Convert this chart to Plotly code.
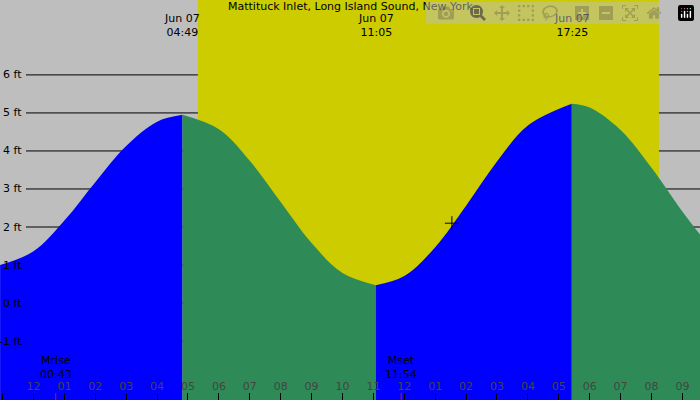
import plotly.graph_objects as go

# hours from midnight Jun 07, tide height in ft
rise1_h = [-1.08, 0, 1, 2, 3, 4, 4.82]
rise1_ft = [1.0, 1.36, 2.17, 3.18, 4.13, 4.77, 4.95]
fall1_h = [4.82, 6, 7, 8, 9, 10, 11.08]
fall1_ft = [4.95, 4.57, 3.74, 2.66, 1.58, 0.79, 0.47]
rise2_h = [11.08, 12, 13, 14, 15, 16, 17.42]
rise2_ft = [0.47, 0.71, 1.47, 2.56, 3.72, 4.67, 5.24]
fall2_h = [17.42, 18, 19, 20, 21, 21.57]
fall2_ft = [5.24, 5.14, 4.55, 3.56, 2.41, 1.8]

tide_h = [-1.27, 4.82, 11.08, 17.42]
tide_lbl = ["Jun 06<br>22:44", "Jun 07<br>04:49", "Jun 07<br>11:05", "Jun 07<br>17:25"]
sunrise, sunset = 5.32, 20.24
moon_h = [0.72, 11.9]
moon_lbl = ["Mrise<br>00:43", "Mset<br>11:54"]
ft_levels = [-1, 0, 1, 2, 3, 4, 5, 6]
hour_ticks = list(range(-1, 22))
hour_lbl = ["11", "12", "01", "02", "03", "04", "05", "06", "07", "08", "09", "10", "11",
            "12", "01", "02", "03", "04", "05", "06", "07", "08", "09"]
now_h, now_ft = 13.54, 2.1

x0, x1 = -1.084, 21.57
y0, y1 = -2.55, 7.97
BLUE, GREEN = "#0000ff", "#2e8b57"

fig = go.Figure()
for hs, fts, col in [(rise1_h, rise1_ft, BLUE), (fall1_h, fall1_ft, GREEN),
                     (rise2_h, rise2_ft, BLUE), (fall2_h, fall2_ft, GREEN)]:
    fig.add_trace(go.Scatter(x=[hs[0], hs[-1]], y=[y0 - 1, y0 - 1], mode="lines",
                             line=dict(width=0), hoverinfo="skip"))
    fig.add_trace(go.Scatter(x=hs, y=fts, mode="lines", line=dict(color=col, width=0, shape="spline"),
                             fill="tonexty", fillcolor=col, hoverinfo="skip"))
fig.add_trace(go.Scatter(x=[now_h], y=[now_ft], mode="markers",
                         marker=dict(symbol="cross-thin", size=10, line=dict(color="black", width=1))))

shapes = [dict(type="rect", x0=sunrise, x1=sunset, y0=y0, y1=y1, fillcolor="#cccc00",
               line=dict(width=0), layer="below")]
for f in ft_levels:
    shapes.append(dict(type="line", xref="paper", x0=26 / 700, x1=1, y0=f, y1=f,
                       line=dict(color="black", width=1), layer="below"))
for m in moon_h:
    shapes.append(dict(type="line", x0=m, x1=m, yref="paper", y0=0, y1=7 / 400,
                       line=dict(color="red", width=1)))
fig.update_layout(shapes=shapes)

ann = [dict(x=0.5, xref="paper", y=1, yref="paper", yanchor="top", yshift=2,
            text="Mattituck Inlet, Long Island Sound, New York", showarrow=False)]
for h, t in zip(tide_h, tide_lbl):
    ann.append(dict(x=h, y=1, yref="paper", yanchor="top", yshift=-10, text=t, showarrow=False))
for f in ft_levels:
    ann.append(dict(x=24 / 700, xref="paper", xanchor="right", y=f, text=f"{f} ft", showarrow=False))
for h, t in zip(moon_h, moon_lbl):
    ann.append(dict(x=h, y=y0 + 0.85, text=t, showarrow=False))
fig.update_layout(annotations=ann)

fig.update_xaxes(range=[x0, x1], tickvals=hour_ticks, ticktext=hour_lbl, ticks="inside",
                 ticklen=7, tickcolor="black", ticklabelposition="inside", showgrid=False,
                 zeroline=False, showline=False, tickfont=dict(size=11))
fig.update_yaxes(range=[y0, y1], visible=False)
fig.update_layout(width=700, height=400, margin=dict(l=0, r=0, t=0, b=0),
                  paper_bgcolor="#bebebe", plot_bgcolor="#bebebe", showlegend=False,
                  font=dict(family="DejaVu Sans", size=11, color="black"))
fig.write_html("out.html", post_script="document.body.style.margin='0px';")
